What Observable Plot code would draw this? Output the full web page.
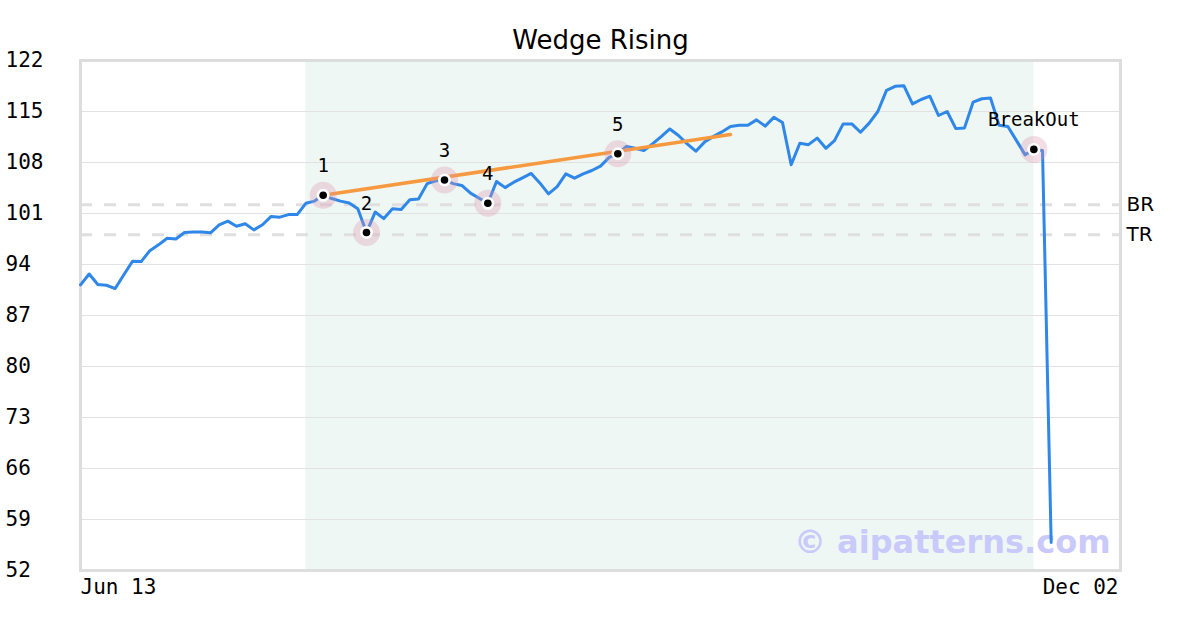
<!DOCTYPE html>
<html><head><meta charset="utf-8">
<script src="https://cdn.jsdelivr.net/npm/d3@7"></script>
<script src="https://cdn.jsdelivr.net/npm/@observablehq/plot@0.6"></script>
<style>html,body{margin:0;padding:0;background:#fff} #chart svg{display:block}</style>
</head><body><div id="chart"></div>
<script>
const title = "Wedge Rising";
const xTickPos = [0, 120];
const xTickLabels = ["Jun 13", "Dec 02"];
const yTicks = [52, 59, 66, 73, 80, 87, 94, 101, 108, 115, 122];
const prices = [
  91.2, 92.7, 91.25, 91.15, 90.7, 92.6, 94.45, 94.4, 95.9, 96.7,
  97.6, 97.5, 98.4, 98.45, 98.45, 98.35, 99.45, 99.95, 99.25, 99.6,
  98.75, 99.45, 100.6, 100.5, 100.85, 100.85, 102.4, 102.7, 103.5, 103.05,
  102.7, 102.45, 101.65, 98.4, 101.2, 100.3, 101.65, 101.55, 102.9, 103.0,
  105.1, 105.5, 105.6, 105.1, 104.85, 103.8, 103.1, 102.4, 105.4, 104.55,
  105.3, 105.9, 106.5, 105.2, 103.7, 104.7, 106.45, 105.85, 106.45, 106.9,
  107.5, 108.7, 109.2, 110.2, 109.95, 109.65, 110.55, 111.55, 112.6, 111.7,
  110.55, 109.55, 110.8, 111.55, 112.2, 112.95, 113.1, 113.1, 113.85, 113.0,
  114.2, 113.5, 107.7, 110.65, 110.45, 111.35, 109.95, 111.0, 113.3, 113.3,
  112.15, 113.4, 115.0, 117.9, 118.45, 118.55, 116.05, 116.65, 117.1, 114.45,
  115.0, 112.65, 112.75, 116.3, 116.75, 116.85, 113.1, 112.95, 111.0, 109.05,
  109.8, 109.65, 55.85
];
const markerIdx = [28, 33, 42, 47, 62, 110];
const markerLabels = ["1", "2", "3", "4", "5", "BreakOut"];
const trendIdx = [28, 75];
const trendVal = [103.5, 111.85];
const levelNames = ["BR", "TR"];
const levelVals = [102.2, 98.1];
const zoneIdx = [26, 110];
const watermark = "\u00a9 aipatterns.com";

const series = prices.map((v, i) => ({i, v}));
const markers = markerIdx.map((i, k) => ({i, v: prices[i], label: markerLabels[k]}));
const trend = trendIdx.map((i, k) => ({i, v: trendVal[k]}));
const levels = levelNames.map((n, k) => ({n, v: levelVals[k]}));
const mono = "'DejaVu Sans Mono', monospace";
const sans = "'DejaVu Sans', sans-serif";

const chart = Plot.plot({
  width: 1200, height: 630,
  marginLeft: 80, marginRight: 80, marginTop: 60, marginBottom: 60,
  x: {domain: [0, 120], axis: null},
  y: {domain: [52, 122], axis: null},
  style: {background: "#fff", fontFamily: mono, color: "#000"},
  marks: [
    Plot.rect([{a: zoneIdx[0], b: zoneIdx[1]}], {x1: "a", x2: "b", fill: "#eef7f3"}),
    Plot.ruleY(yTicks, {stroke: "#e2e2e2", strokeWidth: 1}),
    Plot.ruleY(levels, {y: "v", stroke: "#dfdfdf", strokeWidth: 3, strokeDasharray: "12,12"}),
    Plot.text([watermark], {frameAnchor: "bottom-right", dx: -10, dy: -28, textAnchor: "end", lineAnchor: "middle",
      fontSize: 32, fontWeight: "bold", fontFamily: sans, fill: "#c9c9fb"}),
    Plot.frame({stroke: "#dddddd", strokeWidth: 3}),
    Plot.axisY(yTicks, {label: null, tickSize: 0, tickPadding: 75, textAnchor: "start", fontSize: 21, fontFamily: mono, fill: "#000"}),
    Plot.axisX([xTickPos[0]], {label: null, tickSize: 0, tickPadding: 9, textAnchor: "start", fontSize: 21, fontFamily: mono, fill: "#000",
      tickFormat: d => xTickLabels[xTickPos.indexOf(d)]}),
    Plot.axisX([xTickPos[1]], {label: null, tickSize: 0, tickPadding: 9, textAnchor: "end", dx: -2, fontSize: 21, fontFamily: mono, fill: "#000",
      tickFormat: d => xTickLabels[xTickPos.indexOf(d)]}),
    Plot.line(series, {x: "i", y: "v", stroke: "#2e87e9", strokeWidth: 3, strokeLinejoin: "round"}),
    Plot.line(trend, {x: "i", y: "v", stroke: "#f7993f", strokeWidth: 3.5}),
    Plot.dot(markers, {x: "i", y: "v", r: 13.5, fill: "rgb(220,150,175)", fillOpacity: 0.32}),
    Plot.dot(markers, {x: "i", y: "v", r: 6.5, fill: "#fff"}),
    Plot.dot(markers, {x: "i", y: "v", r: 3.8, fill: "#000"}),
    Plot.text(markers, {x: "i", y: "v", text: "label", dy: -29, fontSize: 19, fontFamily: mono, fill: "#000"}),
    Plot.text(levels, {y: "v", text: "n", frameAnchor: "right", dx: 6, textAnchor: "start", lineAnchor: "middle", fontSize: 20, fontFamily: sans, fill: "#000"}),
    Plot.text([title], {frameAnchor: "top", dy: -20, lineAnchor: "middle", fontSize: 26, fontFamily: sans, fill: "#000"})
  ]
});
document.getElementById("chart").appendChild(chart);
</script>
</body></html>
